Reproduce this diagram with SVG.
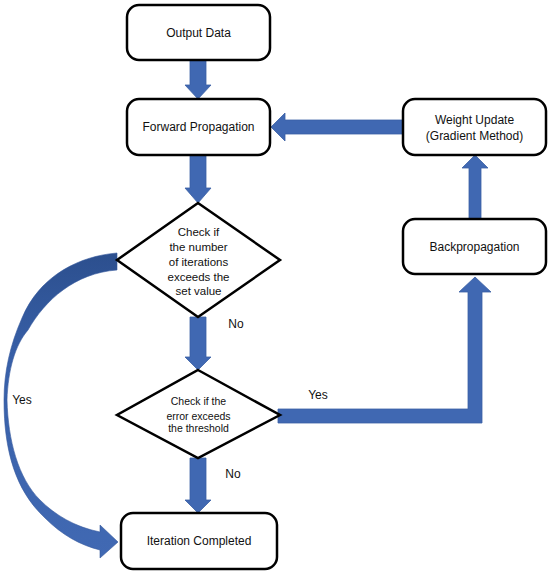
<svg xmlns="http://www.w3.org/2000/svg" width="550" height="574" viewBox="0 0 550 574">
<defs>
<linearGradient id="cg" x1="0" y1="0" x2="0" y2="1">
<stop offset="0" stop-color="#2C4F8E"/>
<stop offset="0.35" stop-color="#3860A8"/>
<stop offset="1" stop-color="#4169B3"/>
</linearGradient>
</defs>
<style>
.box{fill:#fff;stroke:#000;stroke-width:2.5}
.arr{fill:#4068B2;stroke:#3A5FA5;stroke-width:0.8}
text{font-family:"Liberation Sans",Arial,sans-serif;fill:#111;text-anchor:middle}
.t12{font-size:12px}
.t11{font-size:11.5px}
.t10{font-size:10.5px}
</style>
<g id="connectors">
<polygon class="arr" points="190,60 206,60 206,85 211,85 198,99 185,85 190,85"/>
<polygon class="arr" points="190,155 206,155 206,188 211,188 198,203 185,188 190,188"/>
<polygon class="arr" points="190,317 206,317 206,357 211,357 198,370 185,357 190,357"/>
<polygon class="arr" points="190,458 206,458 206,500 211,500 198,513 185,500 190,500"/>
<polygon class="arr" points="278,409 468,409 468,292 459,292 475,277 491,292 482,292 482,423 278,423"/>
<polygon class="arr" points="469,219 481,219 481,168 488,168 475,155 462,168 469,168"/>
<polygon class="arr" points="403,120 285,120 285,113 271,127 285,141 285,134 403,134"/>
<path fill="url(#cg)" stroke="#34589C" stroke-width="0.6" d="M117,253 C80,256 40,275 22,318 C10,345 4,372 4,400 C4,450 15,490 45,518 C62,535 80,545 100,550 L100,558 L118,542 L100,525 L100,532 C75,527 55,515 40,500 C18,478 8,440 7,400 C8,370 15,345 28,330 C45,300 75,273 117,270 Z"/>
<text class="t12" x="22" y="404">Yes</text>
<text class="t12" x="318" y="399">Yes</text>
<text class="t12" x="236" y="328">No</text>
<text class="t12" x="233" y="478">No</text>
</g>
<g id="output-data">
<rect class="box" x="127" y="5" width="143" height="55" rx="12"/>
<text class="t12" x="198.5" y="37">Output Data</text>
</g>
<g id="forward-propagation">
<rect class="box" x="127" y="99" width="143" height="56" rx="12"/>
<text class="t12" x="198.5" y="131">Forward Propagation</text>
</g>
<g id="check-iterations">
<polygon class="box" points="198,203 280,260 198,317 117,260"/>
<text class="t11" x="198.5" y="236">Check if</text>
<text class="t11" x="198.5" y="251">the number</text>
<text class="t11" x="198.5" y="266">of iterations</text>
<text class="t11" x="198.5" y="281">exceeds the</text>
<text class="t11" x="198.5" y="295">set value</text>
</g>
<g id="check-error">
<polygon class="box" points="198,370 280,415 198,458 117,415"/>
<text class="t10" x="198.5" y="405">Check if the</text>
<text class="t10" x="198.5" y="420">error exceeds</text>
<text class="t10" x="198.5" y="432">the threshold</text>
</g>
<g id="iteration-completed">
<rect class="box" x="121" y="513" width="156" height="56" rx="12"/>
<text class="t12" x="199" y="545">Iteration Completed</text>
</g>
<g id="backpropagation">
<rect class="box" x="403" y="219" width="143" height="55" rx="12"/>
<text class="t12" x="474.5" y="251">Backpropagation</text>
</g>
<g id="weight-update">
<rect class="box" x="403" y="99" width="143" height="56" rx="12"/>
<text class="t12" x="474.5" y="124">Weight Update</text>
<text class="t12" x="474.5" y="140">(Gradient Method)</text>
</g>
</svg>
